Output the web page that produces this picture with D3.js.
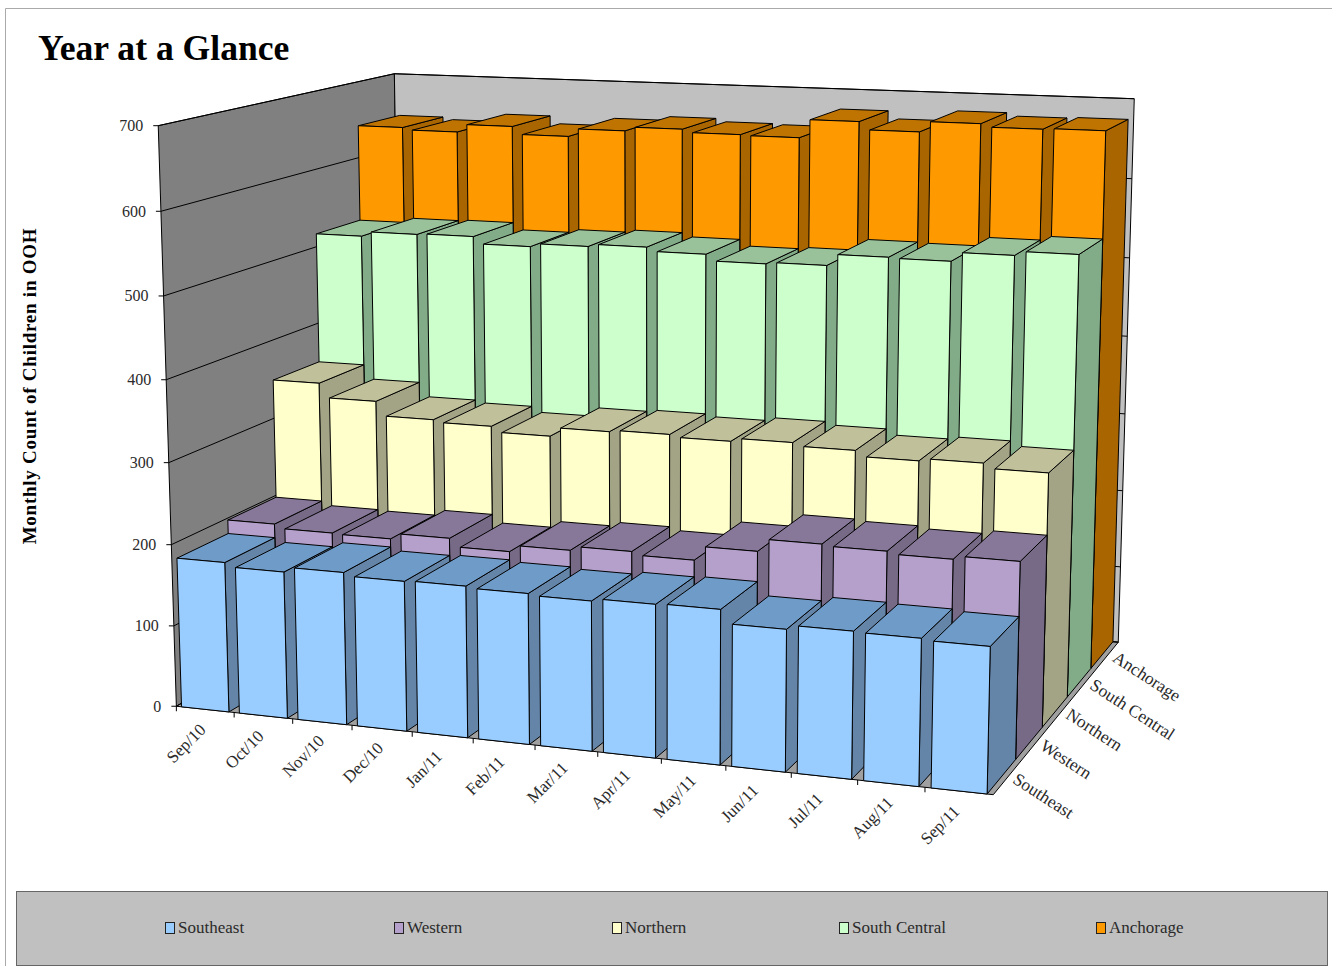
<!DOCTYPE html>
<html>
<head>
<meta charset="utf-8">
<script src="https://d3js.org/d3.v7.min.js"></script>
<style>
  html, body { margin: 0; padding: 0; background: #fff; }
  svg { display: block; }
  text { font-family: "Liberation Serif", serif; fill: #2a2a2a; }
</style>
</head>
<body>
<svg id="chart" width="1332" height="966"></svg>
<script>
const months = ["Sep/10", "Oct/10", "Nov/10", "Dec/10", "Jan/11", "Feb/11", "Mar/11", "Apr/11", "May/11", "Jun/11", "Jul/11", "Aug/11", "Sep/11"];
const seriesNames = ["Southeast", "Western", "Northern", "South Central", "Anchorage"];
const seriesFront = ["#99CCFF", "#B4A0CB", "#FFFFCC", "#CCFFCC", "#FF9900"];
const seriesTop = ["#6F9BC8", "#877798", "#C0C09A", "#99C29A", "#BF7300"];
const seriesSide = ["#6485A8", "#776A87", "#A3A386", "#82AB87", "#A86500"];

const southeast = [184, 179, 185, 181, 182, 180, 178, 181, 182, 166, 171, 170, 168];
const western = [201, 196, 195, 202, 192, 200, 205, 201, 218, 233, 231, 228, 232];
const northern = [352, 334, 316, 313, 306, 317, 319, 316, 320, 316, 309, 312, 306];
const southCentral = [519, 525, 526, 517, 521, 524, 519, 511, 513, 527, 526, 537, 542];
const anchorage = [644, 641, 651, 641, 651, 656, 652, 651, 674, 664, 677, 673, 674];
const allValues = [southeast, western, northern, southCentral, anchorage];

let xScale = d3.scaleLinear().domain([0, 13]).range([0, 1]);
let yScale = d3.scaleLinear().domain([0, 5]).range([0, 1]);
let zScale = d3.scaleLinear().domain([0, 700]).range([0, 1]);

// calibration of the perspective box: unit cube point -> page pixel
const calib = [
  [0, 0, 0, 177, 705], [1, 0, 0, 992, 795], [1, 1, 0, 1117, 643],
  [0, 0, 1, 158, 125], [0, 1, 1, 393, 74], [1, 1, 1, 1135, 100],
  [1/13, 0, 0, 233.7, 713], [2/13, 0, 0, 292.7, 720], [3/13, 0, 0, 351, 727], [4/13, 0, 0, 412, 733.5], [5/13, 0, 0, 472, 741], [12/13, 0, 0, 923, 787],
  [0, 0, 1/7, 175, 624], [0, 0, 2/7, 173, 543], [0, 0, 5/7, 164, 296], [0, 0, 6/7, 161, 211],
  [0.993, 0.2, 0, 1017, 760], [0.993, 0.4, 0, 1043, 725], [0.993, 0.6, 0, 1068, 695], [0.993, 0.8, 0, 1092, 668]
];

function solveCamera(pts) {
  let n = 11;
  let A = d3.range(n).map(() => d3.range(n + 1).map(() => 0));
  function add(row, rhs) {
    for (let i = 0; i < n; i++) {
      for (let j = 0; j < n; j++) A[i][j] += row[i] * row[j];
      A[i][n] += row[i] * rhs;
    }
  }
  pts.forEach(function (p) {
    let [X, Y, Z, u, v] = p;
    add([X, Y, Z, 1, 0, 0, 0, 0, -u * X, -u * Y, -u * Z], u);
    add([0, 0, 0, 0, X, Y, Z, 1, -v * X, -v * Y, -v * Z], v);
  });
  for (let c = 0; c < n; c++) {
    let best = c;
    for (let r = c + 1; r < n; r++) if (Math.abs(A[r][c]) > Math.abs(A[best][c])) best = r;
    [A[c], A[best]] = [A[best], A[c]];
    for (let r = 0; r < n; r++) {
      if (r == c) continue;
      let f = A[r][c] / A[c][c];
      for (let k = c; k <= n; k++) A[r][k] -= f * A[c][k];
    }
  }
  return A.map((row, i) => row[n] / row[i]);
}

const cam = solveCamera(calib);

function project(X, Y, Z) {
  let w = cam[8] * X + cam[9] * Y + cam[10] * Z + 1;
  return [(cam[0] * X + cam[1] * Y + cam[2] * Z + cam[3]) / w,
          (cam[4] * X + cam[5] * Y + cam[6] * Z + cam[7]) / w];
}

let barInset = 0.09;
let svg = d3.select("#chart");

function poly(points) {
  return "M" + points.map(p => project(p[0], p[1], p[2]).join(",")).join("L") + "Z";
}

// frame
svg.append("path").attr("d", "M5.5,966V8.5H1332").attr("fill", "none").attr("stroke", "#aaa").attr("stroke-width", 1);

// title
svg.append("text").attr("x", 38).attr("y", 60).attr("font-weight", "bold").attr("font-size", 35.6).style("fill", "#000").text("Year at a Glance");

// walls and floor
svg.append("path").attr("d", poly([[0,0,0],[0,1,0],[0,1,1],[0,0,1]])).attr("fill", "#808080").attr("stroke", "#000");
svg.append("path").attr("d", poly([[0,1,0],[1,1,0],[1,1,1],[0,1,1]])).attr("fill", "#C0C0C0").attr("stroke", "#000");
svg.append("path").attr("d", poly([[0,0,0],[1,0,0],[1,1,0],[0,1,0]])).attr("fill", "#A0A0A0").attr("stroke", "#000");

// gridlines
let zTicks = zScale.ticks(7);
svg.append("g").selectAll("path").data(zTicks).enter().append("path")
  .attr("d", function (d) {
    let z = zScale(d);
    return "M" + [[0,0,z],[0,1,z],[1,1,z]].map(p => project(p[0], p[1], p[2]).join(",")).join("L");
  })
  .attr("fill", "none").attr("stroke", "#000").attr("stroke-width", 1);

// value axis
zTicks.forEach(function (d) {
  let p = project(0, 0, zScale(d));
  svg.append("line").attr("x1", p[0] - 5).attr("x2", p[0]).attr("y1", p[1]).attr("y2", p[1]).attr("stroke", "#000");
  svg.append("text").attr("x", p[0] - 15).attr("y", p[1] + 5.5).attr("text-anchor", "end").attr("font-size", 16).text(d);
});

// bars, back row first, left to right
let bars = [];
for (let s = seriesNames.length - 1; s >= 0; s--) {
  for (let i = 0; i < months.length; i++) {
    bars.push({ s: s, i: i, v: allValues[s][i] });
  }
}
function corners(d) {
  return {
    x0: xScale(d.i + barInset), x1: xScale(d.i + 1 - barInset),
    y0: yScale(d.s), y1: yScale(d.s + 1), z: zScale(d.v)
  };
}
let barG = svg.append("g").selectAll("g").data(bars).enter().append("g");
barG.append("path")
  .attr("d", function (d) { let c = corners(d); return poly([[c.x1,c.y0,0],[c.x1,c.y1,0],[c.x1,c.y1,c.z],[c.x1,c.y0,c.z]]); })
  .attr("fill", d => seriesSide[d.s]).attr("stroke", "#000");
barG.append("path")
  .attr("d", function (d) { let c = corners(d); return poly([[c.x0,c.y0,c.z],[c.x1,c.y0,c.z],[c.x1,c.y1,c.z],[c.x0,c.y1,c.z]]); })
  .attr("fill", d => seriesTop[d.s]).attr("stroke", "#000");
barG.append("path")
  .attr("d", function (d) { let c = corners(d); return poly([[c.x0,c.y0,0],[c.x1,c.y0,0],[c.x1,c.y0,c.z],[c.x0,c.y0,c.z]]); })
  .attr("fill", d => seriesFront[d.s]).attr("stroke", "#000");

// month axis
months.forEach(function (m, i) {
  let t = project(xScale(i), 0, 0);
  svg.append("line").attr("x1", t[0]).attr("x2", t[0]).attr("y1", t[1]).attr("y2", t[1] + 5).attr("stroke", "#000");
  let p = project(xScale(i + 0.5), 0, 0);
  svg.append("text").attr("font-size", 17).attr("text-anchor", "middle")
    .attr("transform", "translate(" + (p[0] - 15) + "," + (p[1] + 38) + ") rotate(-45)").text(m);
});

// series axis
seriesNames.forEach(function (n, s) {
  let p = project(1, yScale(s + 0.5), 0);
  svg.append("text").attr("font-size", 17.5)
    .attr("transform", "translate(" + (p[0] + 4) + "," + (p[1] + 5) + ") rotate(33)").text(n);
});

// y title
svg.append("text").attr("font-weight", "bold").attr("font-size", 19).attr("text-anchor", "middle")
  .attr("letter-spacing", 0.75).style("fill", "#000")
  .attr("transform", "translate(36,386) rotate(-90)").text("Monthly Count of Children in OOH");

// legend
svg.append("rect").attr("x", 16.5).attr("y", 891.5).attr("width", 1311).attr("height", 74).attr("fill", "#C0C0C0").attr("stroke", "#666");
let legendPos = [165, 394, 612, 839, 1096];
seriesNames.forEach(function (n, s) {
  svg.append("rect").attr("x", legendPos[s] + .5).attr("y", 922.5).attr("width", 9).attr("height", 11)
    .attr("fill", seriesFront[s]).attr("stroke", "#222");
  svg.append("text").attr("x", legendPos[s] + 13).attr("y", 933).attr("font-size", 17).text(n);
});
</script>
</body>
</html>
